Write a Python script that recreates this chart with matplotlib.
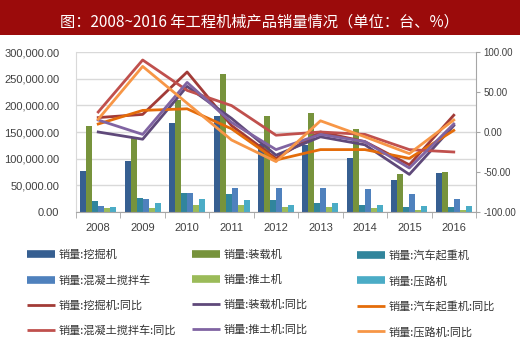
import matplotlib
matplotlib.use("Agg")
import matplotlib.pyplot as plt
from matplotlib.lines import Line2D
from matplotlib.ticker import FuncFormatter, FixedLocator
import numpy as np

plt.rcParams["font.family"] = ["Noto Sans CJK SC", "DejaVu Sans"]

# --- data ---
years = ["2008", "2009", "2010", "2011", "2012", "2013", "2014", "2015", "2016"]

bar_names = ["销量:挖掘机", "销量:装载机", "销量:汽车起重机",
             "销量:混凝土搅拌车", "销量:推土机", "销量:压路机"]
excavator = [76000, 95000, 166000, 180000, 127000, 125000, 102000, 60000, 73000]
loader = [162000, 138000, 210000, 258000, 180000, 186000, 155000, 72000, 75000]
crane = [20000, 26000, 35500, 33600, 22400, 16000, 12500, 8700, 8700]
mixer = [11000, 24000, 35500, 45000, 45000, 45000, 43600, 34000, 24000]
bulldozer = [7500, 7500, 12500, 12500, 8700, 8700, 7500, 3700, 3700]
roller = [10000, 16000, 25000, 22400, 12500, 16000, 13700, 10600, 11800]

line_names = ["销量:挖掘机:同比", "销量:装载机:同比", "销量:汽车起重机:同比",
              "销量:混凝土搅拌车:同比", "销量:推土机:同比", "销量:压路机:同比"]
excavator_yoy = [18, 22, 75, 8, -33, 0, -12, -41, 21]
loader_yoy = [0, -9, 57, 17, -29, -6, -16, -53, 8]
crane_yoy = [10, 27, 29, 4, -35, -22, -22, -33, 2]
mixer_yoy = [25, 90, 52, 33, -4, 0, -3, -22, -25]
bulldozer_yoy = [15, -3, 62, 12, -22, -3, -12, -45, 10]
roller_yoy = [16, 82, 36, -10, -37, 14, -6, -27, 15]

bar_colors = ["#365F91", "#77933C", "#31859C", "#4F81BD", "#9BBB59", "#4BACC6"]
line_colors = ["#A23B37", "#5F497A", "#E46C0A", "#C0504D", "#8064A2", "#F79646"]

bar_series = [excavator, loader, crane, mixer, bulldozer, roller]
line_series = [excavator_yoy, loader_yoy, crane_yoy, mixer_yoy, bulldozer_yoy, roller_yoy]

W, H = 520, 339
fig = plt.figure(figsize=(W / 100, H / 100), dpi=100)

# title banner
fig.patches.append(plt.Rectangle((0, 1 - 35 / H), 1, 35 / H, transform=fig.transFigure,
                                 facecolor="#9B0B0B", edgecolor="none", zorder=0))
fig.text(259 / W, 1 - 22 / H, "图：2008~2016 年工程机械产品销量情况（单位：台、%）",
         color="white", fontsize=11, ha="center", va="center")

ax = fig.add_axes([76 / W, 1 - 212 / H, 400 / W, 160 / H])
x = np.arange(len(years))
bw = 0.135
for i, (vals, col) in enumerate(zip(bar_series, bar_colors)):
    ax.bar(x + (i - 2.5) * bw, vals, width=bw, color=col, zorder=2)

ax.set_xlim(-0.5, len(years) - 0.5)
ax.set_ylim(0, 300000)
ax.set_yticks(np.arange(0, 300001, 50000))
ax.yaxis.set_major_formatter(FuncFormatter(lambda v, p: f"{v:,.2f}"))
ax.grid(axis="y", color="#D9D9D9", lw=1, zorder=0)
ax.set_axisbelow(True)
ax.set_xticks(x)
ax.set_xticklabels(years)
ax.xaxis.set_minor_locator(FixedLocator(np.arange(-0.5, len(years), 1)))
ax.tick_params(axis="x", which="major", length=0, pad=8)
ax.tick_params(axis="x", which="minor", length=4, color="#A6A6A6")
ax.tick_params(axis="y", length=0, pad=12)
ax.tick_params(labelsize=8, labelcolor="#404040")
for lab in ax.get_xticklabels() + ax.get_yticklabels():
    lab.set_family("Liberation Sans")
for s in ["top", "right"]:
    ax.spines[s].set_visible(False)
ax.spines["left"].set_color("#D9D9D9")
ax.spines["bottom"].set_color("#A6A6A6")

ax2 = ax.twinx()
for vals, col in zip(line_series, line_colors):
    ax2.plot(x, vals, color=col, lw=2)
ax2.set_ylim(-100, 100)
ax2.set_yticks(np.arange(-100, 101, 50))
ax2.yaxis.set_major_formatter(FuncFormatter(lambda v, p: f"{v:.2f}"))
ax2.tick_params(axis="y", length=3, color="#A6A6A6", pad=2.5, labelsize=7, labelcolor="#404040")
for lab in ax2.get_yticklabels():
    lab.set_family("Liberation Sans")
for s in ["top", "left", "bottom"]:
    ax2.spines[s].set_visible(False)
ax2.spines["right"].set_color("#A6A6A6")

# legend: 4 rows x 3 columns, filled row by row
items = [(n, c, 5.5) for n, c in zip(bar_names, bar_colors)] + \
        [(n, c, 2) for n, c in zip(line_names, line_colors)]
col_x = [27, 192, 357]
for c in range(3):
    entries = [items[r * 3 + c] for r in range(4)]
    handles = [Line2D([], [], color=col, lw=lw, solid_capstyle="butt") for _, col, lw in entries]
    leg = fig.legend(handles, [n for n, _, _ in entries], loc="upper left",
                     bbox_to_anchor=(col_x[c] / W, 1 - 250 / H), frameon=False,
                     fontsize=8, handlelength=2.5, handletextpad=0.35,
                     labelspacing=1.32, borderpad=0, borderaxespad=0)
    for t in leg.get_texts():
        t.set_color("#333333")

fig.savefig("out.png", dpi=100)
